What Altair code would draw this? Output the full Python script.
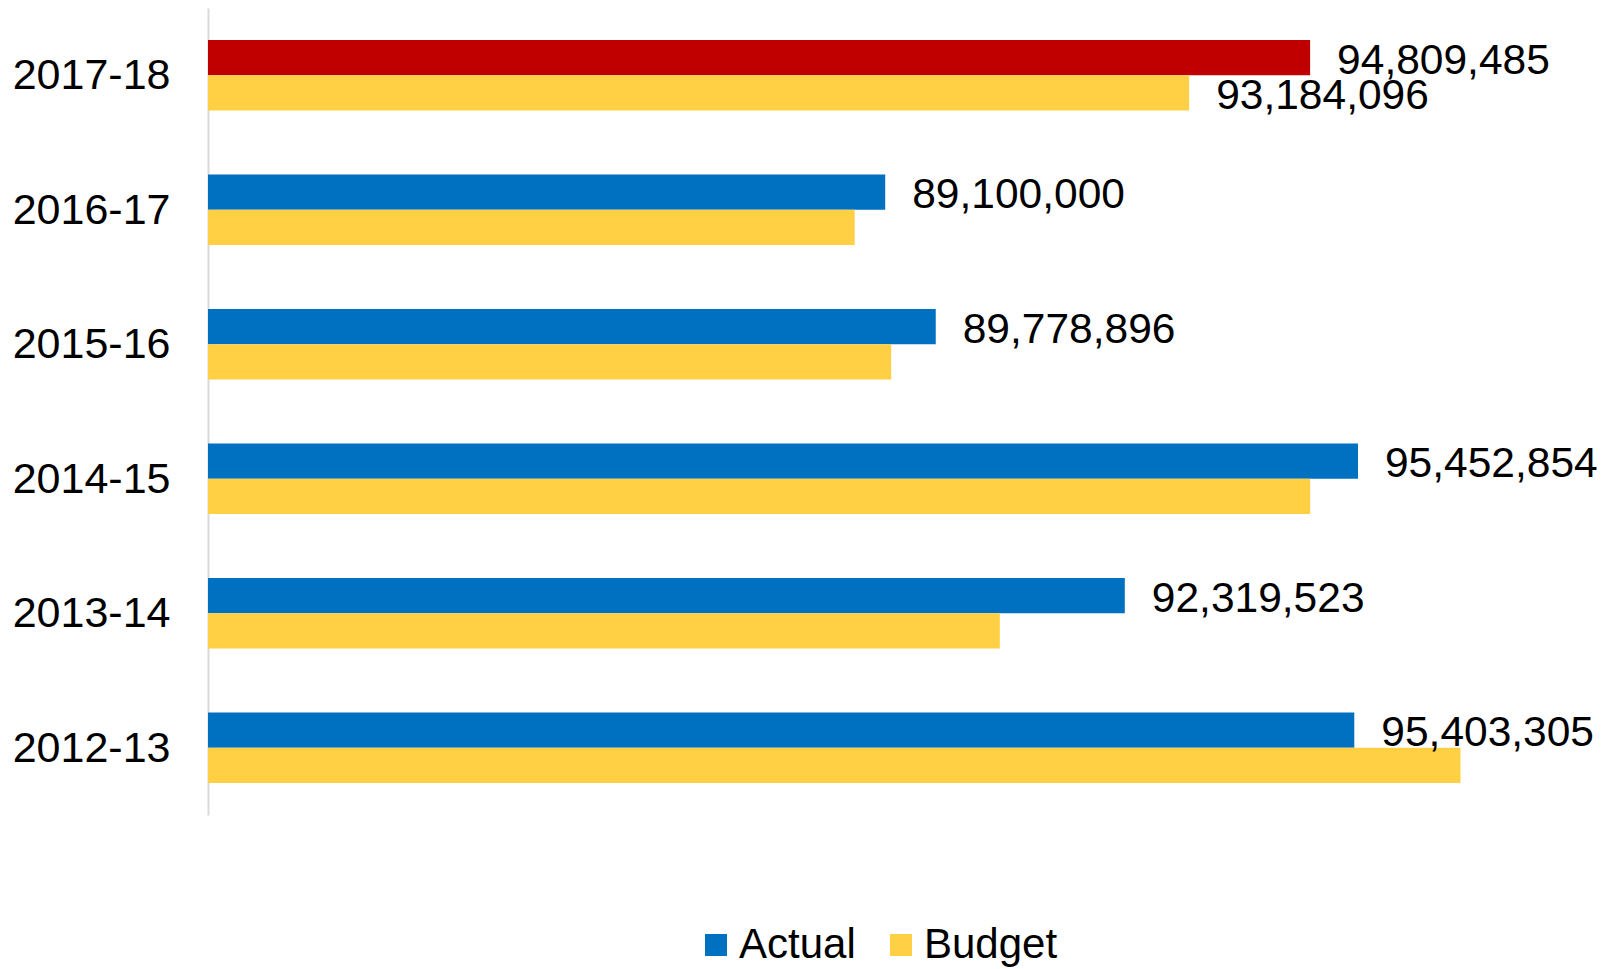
import altair as alt
import pandas as pd

years = ["2017-18", "2016-17", "2015-16", "2014-15", "2013-14", "2012-13"]
actual = [94809485, 89100000, 89778896, 95452854, 92319523, 95403305]
budget = [93184096, 88690000, 89180000, 94810000, 90640000, 96830000]
actual_labels = ["94,809,485", "89,100,000", "89,778,896", "95,452,854", "92,319,523", "95,403,305"]
budget_labels = ["93,184,096", "", "", "", "", ""]
series = ["Actual", "Budget"]
color_keys = ["Actual", "Budget", "Current"]
color_range = ["#0070C0", "#FFD043", "#C00000"]
X_MIN = 80000000
X_MAX = 98678000

rows = []
for i, y in enumerate(years):
    rows.append({"year": y, "series": "Actual", "value": actual[i], "label": actual_labels[i],
                 "ckey": "Current" if i == 0 else "Actual"})
    rows.append({"year": y, "series": "Budget", "value": budget[i], "label": budget_labels[i],
                 "ckey": "Budget"})
df = pd.DataFrame(rows)

FONT = "Liberation Sans"

y_enc = alt.Y("year:N", sort=years,
              scale=alt.Scale(paddingInner=0.4766, paddingOuter=0.2383),
              axis=alt.Axis(title=None, ticks=False, labelFontSize=43, labelFont=FONT,
                            labelColor="#000000", labelPadding=38, domainColor="#d9d9d9",
                            domainWidth=2, labelLimit=400, labelOffset=1))
yoff = alt.YOffset("series:N", sort=series, scale=alt.Scale(paddingInner=0, paddingOuter=0))
x_enc = alt.X("value:Q", scale=alt.Scale(domain=[X_MIN, X_MAX], zero=False, nice=False), axis=None)

bars = alt.Chart(df).mark_bar(strokeWidth=0).encode(
    x=x_enc,
    x2=alt.datum(X_MIN),
    y=y_enc,
    yOffset=yoff,
    color=alt.Color("ckey:N", scale=alt.Scale(domain=color_keys, range=color_range),
                    legend=alt.Legend(title=None, values=["Actual", "Budget"], orient="none",
                                      direction="horizontal", legendX=487, legendY=916,
                                      symbolType="square", symbolSize=484, symbolStrokeWidth=0,
                                      symbolOpacity=1, labelFontSize=42, labelFont=FONT,
                                      labelColor="#000000", labelOffset=2, columnPadding=24,
                                      labelLimit=400, padding=0)),
)

labels = alt.Chart(df).mark_text(align="left", baseline="middle", dx=27, dy=3, fontSize=42.5,
                                 font=FONT, color="#000000").encode(
    x=x_enc,
    y=y_enc,
    yOffset=yoff,
    text="label:N",
)

chart = alt.layer(bars, labels).properties(
    width=1390, height=807,
    autosize=alt.AutoSizeParams(type="none"),
    padding={"left": 208, "top": 8, "right": 8, "bottom": 154},
    background="#ffffff",
).configure_view(stroke=None)

chart.save("out.html", embed_options={"renderer": "svg", "actions": False})
